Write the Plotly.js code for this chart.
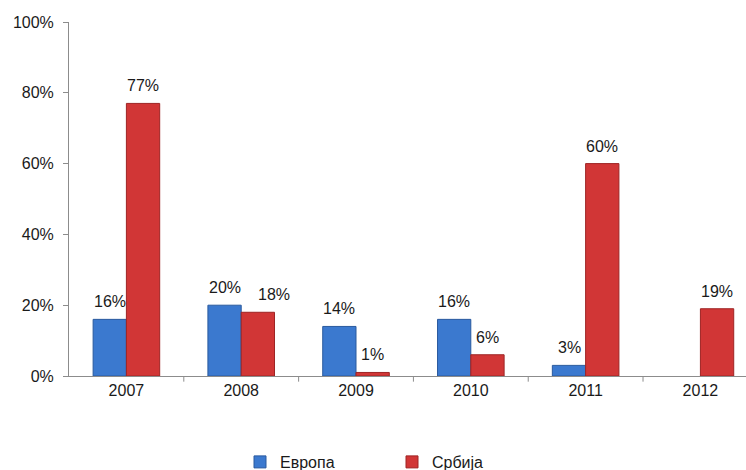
<!DOCTYPE html>
<html>
<head>
<meta charset="utf-8">
<script src="https://cdn.plot.ly/plotly-3.0.1.min.js"></script>
<style>html,body{margin:0;padding:0;background:#fff;}#chart{width:746px;height:470px;}</style>
</head>
<body>
<div id="chart"></div>
<script>
var years = ['2007', '2008', '2009', '2010', '2011', '2012'];
var evropa = [16, 20, 14, 16, 3, null];
var srbija = [77, 18, 1, 6, 60, 19];
var yTicks = [0, 20, 40, 60, 80, 100];

var font = {family: 'Liberation Sans, Arial, sans-serif', size: 16, color: '#1a1a1a'};

var traces = [
  {type: 'bar', name: 'Европа', x: years, y: evropa,
   marker: {color: '#3b79cf', line: {color: '#2a5a9e', width: 1}}},
  {type: 'bar', name: 'Србија', x: years, y: srbija,
   marker: {color: '#d13636', line: {color: '#9e2424', width: 1}}}
];

// value labels, placed through the axes (category index + bar offset);
// a label that would collide with its neighbour is nudged right, as in the original
var annotations = [];
[[evropa, -16.6, null], [srbija, 16.6, evropa]].forEach(function(set) {
  var vals = set[0], off = set[1], other = set[2];
  vals.forEach(function(v, i) {
    if (v === null) return;
    var nudge = 0;
    if (other && other[i] !== null && Math.abs(other[i] - v) < 5) nudge = 16;
    annotations.push({x: i, y: v, xref: 'x', yref: 'y', text: v + '%', showarrow: false,
                      xshift: off + nudge, yshift: 7, yanchor: 'bottom', xanchor: 'center', font: font});
  });
});

// tick marks at category boundaries
var shapes = years.map(function(_, i) {
  return {type: 'line', xref: 'x', yref: 'paper', x0: i + 0.5, x1: i + 0.5, y0: 0, y1: -0.016,
          line: {color: '#8c8c8c', width: 1}};
});

var layout = {
  width: 746, height: 470,
  margin: {l: 69, r: 0, t: 22, b: 94, autoexpand: false},
  paper_bgcolor: '#fff', plot_bgcolor: '#fff',
  font: font,
  barmode: 'group', bargap: 0.42, bargroupgap: 0,
  showlegend: true,
  annotations: annotations,
  shapes: shapes,
  legend: {orientation: 'h', xref: 'container', yref: 'container', x: 240 / 746, xanchor: 'left',
           y: 8 / 470, yanchor: 'middle', entrywidth: 107, font: font, traceorder: 'normal'},
  xaxis: {type: 'category', range: [-0.5, 5.397], showline: true, linecolor: '#8c8c8c', linewidth: 1,
          ticks: '', showgrid: false, tickfont: font, fixedrange: true, zeroline: false},
  yaxis: {range: [0, 100], tickvals: yTicks, ticktext: yTicks.map(function(v){return v + '%';}),
          showline: true, linecolor: '#8c8c8c', linewidth: 1, ticks: 'outside', ticklen: 5,
          tickcolor: '#8c8c8c', showgrid: false, zeroline: false, tickfont: font, ticklabelstandoff: 6}
};

Plotly.newPlot('chart', traces, layout, {displayModeBar: false, staticPlot: true});
</script>
</body>
</html>
